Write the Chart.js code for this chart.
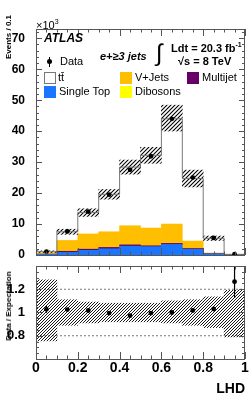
<!DOCTYPE html>
<html>
<head>
<meta charset="utf-8">
<script src="https://cdn.jsdelivr.net/npm/chart.js@4.4.1/dist/chart.umd.min.js"></script>
<style>
  body { margin: 0; background: #fff; font-family: 'Liberation Sans', Arial, sans-serif; }
  #wrap { position: relative; width: 249px; height: 400px; overflow: hidden; }
  canvas { position: absolute; left: 0; }
  .t { position: absolute; white-space: nowrap; line-height: 1; color: #000; }
  .box { position: absolute; width: 12px; height: 12px; box-sizing: border-box; }
  .rot { position: absolute; white-space: nowrap; line-height: 1; font-size: 8px; font-weight: bold;
         transform: translate(-50%, -50%) rotate(-90deg); }
</style>
</head>
<body>
<div id="wrap">
  <canvas id="mainChart" width="249" height="262" style="top:0"></canvas>
  <canvas id="ratioChart" width="249" height="138" style="top:262px"></canvas>

  <div class="t" style="left:36px;top:18px;font-size:11px">×10<sup style="font-size:7px;vertical-align:5px">3</sup></div>
  <div class="rot" style="left:9px;top:37px">Events / 0.1</div>
  <div class="rot" style="left:9px;top:306px">Data / Expectation</div>

  <div class="t" style="left:44px;top:32px;font-size:12px;font-weight:bold;font-style:italic">ATLAS</div>
  <div class="t" style="left:100px;top:51px;font-size:11px;font-weight:bold;font-style:italic">e+≥3 jets</div>
  <div class="t" style="left:156px;top:41px;font-size:24px">∫</div>
  <div class="t" style="left:171px;top:41px;font-size:11px;font-weight:bold">Ldt = 20.3 fb<sup style="font-size:7px;vertical-align:5px">-1</sup></div>
  <div class="t" style="left:178px;top:56px;font-size:11px;font-weight:bold">√s = 8 TeV</div>

  <!-- legend -->
  <div style="position:absolute;left:47px;top:59px;width:5px;height:5px;border-radius:50%;background:#000"></div>
  <div style="position:absolute;left:49px;top:57px;width:1px;height:10px;background:#000"></div>
  <div class="t" style="left:60px;top:56px;font-size:11px">Data</div>

  <div class="box" style="left:44px;top:72px;background:#fff;border:1px solid #777"></div>
  <div class="t" style="left:58px;top:72px;font-size:11px">tt̄</div>
  <div class="box" style="left:120px;top:72px;background:#ffbf00"></div>
  <div class="t" style="left:135px;top:72px;font-size:11px">V+Jets</div>
  <div class="box" style="left:187px;top:72px;background:#660066"></div>
  <div class="t" style="left:202px;top:72px;font-size:11px">Multijet</div>

  <div class="box" style="left:44px;top:86px;background:#1a75ff"></div>
  <div class="t" style="left:59px;top:86px;font-size:11px">Single Top</div>
  <div class="box" style="left:120px;top:86px;background:#ffff00"></div>
  <div class="t" style="left:135px;top:86px;font-size:11px">Dibosons</div>

  <div class="t" style="right:4px;top:381px;font-size:14px;font-weight:bold">LHD</div>
</div>

<script>
// values in units of 10^3 events per bin
const binCenters = [0.05, 0.15, 0.25, 0.35, 0.45, 0.55, 0.65, 0.75, 0.85, 0.95];
const binEdges = [0, 0.1, 0.2, 0.3, 0.4, 0.5, 0.6, 0.7, 0.8, 0.9, 1.0];

const singleTop = [0.2, 0.85, 1.5, 2.0, 2.85, 2.7, 3.4, 1.8, 0.4, 0.02];
const multijet  = [0.1, 0.35, 0.4, 0.45, 0.45, 0.3, 0.35, 0.3, 0.05, 0.01];
const dibosons  = [0.01, 0.03, 0.04, 0.05, 0.06, 0.05, 0.06, 0.04, 0.01, 0];
const vJets     = [0.29, 3.47, 4.86, 5.0, 6.09, 5.65, 6.19, 2.36, 0.19, 0.02];
const ttbar     = [0.45, 2.8, 6.9, 12.1, 18.95, 23.5, 34.0, 20.2, 4.75, 0.15];

const dataVals = [1.1, 7.6, 14.0, 19.5, 27.5, 31.9, 44.0, 25.0, 5.5, 0.25];
const dataErr  = [0.03, 0.09, 0.12, 0.14, 0.17, 0.18, 0.21, 0.16, 0.07, 0.02];

// relative MC uncertainty (lower / upper edge of the hatched band)
const bandLo = [0.755, 0.89, 0.91, 0.92, 0.92, 0.92, 0.91, 0.89, 0.87, 0.79];
const bandHi = [1.28, 1.11, 1.09, 1.08, 1.08, 1.08, 1.10, 1.11, 1.135, 1.19];

const ratioVals = [1.027, 1.025, 1.017, 0.995, 0.973, 0.995, 1.0, 1.017, 1.03, 1.265];
const ratioErr  = [0.03, 0.012, 0.009, 0.007, 0.006, 0.006, 0.005, 0.007, 0.014, 0.14];
const ratioRefLines = [0.8, 1.2];

const mainYTicks = [0, 10, 20, 30, 40, 50, 60, 70];
const ratioYTicks = [0.8, 1, 1.2];
const ratioXTicks = [0, 0.2, 0.4, 0.6, 0.8, 1];

Chart.defaults.font.family = "'Liberation Sans', Arial, sans-serif";
Chart.defaults.color = '#000';

const mcTotal = ttbar.map((_, i) => ttbar[i] + vJets[i] + dibosons[i] + multijet[i] + singleTop[i]);
const pts = arr => arr.map((v, i) => ({ x: binCenters[i], y: v }));

function makeHatch(size, width) {
    const c = document.createElement('canvas');
    c.width = c.height = size;
    const g = c.getContext('2d');
    g.strokeStyle = '#000';
    g.lineWidth = width;
    g.beginPath();
    g.moveTo(0, size); g.lineTo(size, 0);
    g.moveTo(-1, 1); g.lineTo(1, -1);
    g.moveTo(size - 1, size + 1); g.lineTo(size + 1, size - 1);
    g.stroke();
    return g.createPattern(c, 'repeat');
}

// ROOT-like frame, inward ticks and vertical error bars
const rootStyle = {
    id: 'rootStyle',
    afterDatasetsDraw(chart, args, opts) {
        const { ctx, chartArea: a, scales } = chart;
        ctx.save();
        ctx.beginPath();
        ctx.rect(a.left, a.top, a.right - a.left, a.bottom - a.top);
        ctx.clip();
        ctx.strokeStyle = '#000';
        ctx.lineWidth = 1.2;
        chart.data.datasets.forEach(ds => {
            if (!ds.errs) return;
            const ys = scales[ds.yAxisID || 'y'];
            ds.data.forEach((p, i) => {
                const x = scales.x.getPixelForValue(p.x);
                ctx.beginPath();
                ctx.moveTo(x, ys.getPixelForValue(p.y - ds.errs[i]));
                ctx.lineTo(x, ys.getPixelForValue(p.y + ds.errs[i]));
                ctx.stroke();
            });
        });
        ctx.restore();

        ctx.save();
        ctx.strokeStyle = '#555';
        ctx.lineWidth = 1;
        const snap = v => Math.round(v) + 0.5;
        const sx = scales.x, sy = scales.y;
        let n = Math.round((sx.max - sx.min) / opts.xMinor);
        ctx.beginPath();
        for (let i = 0; i <= n; i++) {
            const v = sx.min + i * opts.xMinor;
            const major = Math.abs(v / opts.xMajor - Math.round(v / opts.xMajor)) < 1e-6;
            const len = major ? opts.xLen : opts.xLen / 2;
            const px = snap(sx.getPixelForValue(v));
            ctx.moveTo(px, a.bottom); ctx.lineTo(px, a.bottom - len);
            ctx.moveTo(px, a.top); ctx.lineTo(px, a.top + len);
        }
        n = Math.floor((sy.max - sy.min) / opts.yMinor + 1e-6);
        for (let i = 0; i <= n; i++) {
            const v = sy.min + i * opts.yMinor;
            const major = Math.abs(v / opts.yMajor - Math.round(v / opts.yMajor)) < 1e-6;
            const len = major ? opts.yLen : opts.yLen / 2;
            const py = snap(sy.getPixelForValue(v));
            ctx.moveTo(a.left, py); ctx.lineTo(a.left + len, py);
            ctx.moveTo(a.right, py); ctx.lineTo(a.right - len, py);
        }
        ctx.stroke();
        ctx.strokeRect(snap(a.left), snap(a.top), Math.round(a.right - a.left) - 1, Math.round(a.bottom - a.top));
        ctx.restore();
    }
};

const barDefaults = { grouped: false, barPercentage: 1, categoryPercentage: 1, borderWidth: 0 };

// Main panel
const mainChart = new Chart(document.getElementById('mainChart'), {
    type: 'bar',
    plugins: [rootStyle],
    data: {
        datasets: [
            { type: 'line', label: 'Data', data: pts(dataVals), errs: dataErr, yAxisID: 'yb',
              showLine: false, pointRadius: 2.4, pointBackgroundColor: '#000', pointBorderWidth: 0 },
            { type: 'line', label: 'MC total', yAxisID: 'yb',
              data: binEdges.map((x, i) => ({ x: x, y: mcTotal[Math.min(i, mcTotal.length - 1)] })),
              stepped: 'before', borderColor: '#777', borderWidth: 1, pointRadius: 0, fill: false },
            { label: 'Uncertainty', yAxisID: 'yb', backgroundColor: makeHatch(4, 1.1),
              data: binCenters.map((x, i) => ({ x: x, y: [mcTotal[i] * bandLo[i], mcTotal[i] * bandHi[i]] })) },
            { label: 'Single Top', data: pts(singleTop), backgroundColor: '#1a75ff' },
            { label: 'Multijet', data: pts(multijet), backgroundColor: '#660066' },
            { label: 'Dibosons', data: pts(dibosons), backgroundColor: '#ffff00' },
            { label: 'V+Jets', data: pts(vJets), backgroundColor: '#ffbf00' },
            { label: 'ttbar', data: pts(ttbar), backgroundColor: '#ffffff' }
        ]
    },
    options: {
        responsive: false,
        animation: false,
        datasets: { bar: barDefaults },
        layout: { padding: { top: 29, right: 4, bottom: 7, left: 0 } },
        plugins: {
            legend: { display: false },
            tooltip: { enabled: false },
            rootStyle: { xMinor: 0.05, xMajor: 0.2, xLen: 7, yMinor: 2, yMajor: 10, yLen: 6 }
        },
        scales: {
            x: { type: 'linear', min: 0, max: 1, offset: false, display: false, grid: { offset: false } },
            y: {
                stacked: true, min: 0, max: 73,
                grid: { display: false }, border: { display: false },
                ticks: { font: { size: 12, weight: 'bold' }, padding: 3 },
                afterBuildTicks: s => { s.ticks = mainYTicks.map(v => ({ value: v })); },
                afterFit: s => { s.width = 36; s.paddingTop = 0; s.paddingBottom = 0; }
            },
            yb: { type: 'linear', display: false, stacked: false, min: 0, max: 73 }
        }
    }
});

// Ratio panel
const ratioChart = new Chart(document.getElementById('ratioChart'), {
    type: 'bar',
    plugins: [rootStyle],
    data: {
        datasets: [
            { type: 'line', label: 'Data / Expectation', data: pts(ratioVals), errs: ratioErr,
              showLine: false, pointRadius: 2.4, pointBackgroundColor: '#000', pointBorderWidth: 0 },
            { label: 'Uncertainty', backgroundColor: makeHatch(3, 0.9),
              data: binCenters.map((x, i) => ({ x: x, y: [bandLo[i], bandHi[i]] })) },
            ...ratioRefLines.map(v => ({
                type: 'line', label: 'ref ' + v, data: [{ x: 0, y: v }, { x: 1, y: v }],
                borderColor: '#777', borderWidth: 1, borderDash: [2, 2], pointRadius: 0
            }))
        ]
    },
    options: {
        responsive: false,
        animation: false,
        datasets: { bar: barDefaults },
        layout: { padding: { top: 2, right: 4, bottom: 0, left: 0 } },
        plugins: {
            legend: { display: false },
            tooltip: { enabled: false },
            rootStyle: { xMinor: 0.05, xMajor: 0.2, xLen: 7, yMinor: 0.05, yMajor: 0.2, yLen: 6 }
        },
        scales: {
            x: {
                type: 'linear', min: 0, max: 1, offset: false,
                grid: { display: false, offset: false }, border: { display: false },
                ticks: { font: { size: 14, weight: 'bold' }, padding: -7, maxRotation: 0, autoSkip: false,
                         callback: v => String(v) },
                afterBuildTicks: s => { s.ticks = ratioXTicks.map(v => ({ value: v })); },
                afterFit: s => { s.height = 41; s.paddingLeft = 0; s.paddingRight = 0; }
            },
            y: {
                min: 0.6, max: 1.4,
                grid: { display: false }, border: { display: false },
                ticks: { font: { size: 13, weight: 'bold' }, padding: 3, callback: v => String(v) },
                afterBuildTicks: s => { s.ticks = ratioYTicks.map(v => ({ value: v })); },
                afterFit: s => { s.width = 36; s.paddingTop = 0; s.paddingBottom = 0; }
            }
        }
    }
});
</script>
</body>
</html>
